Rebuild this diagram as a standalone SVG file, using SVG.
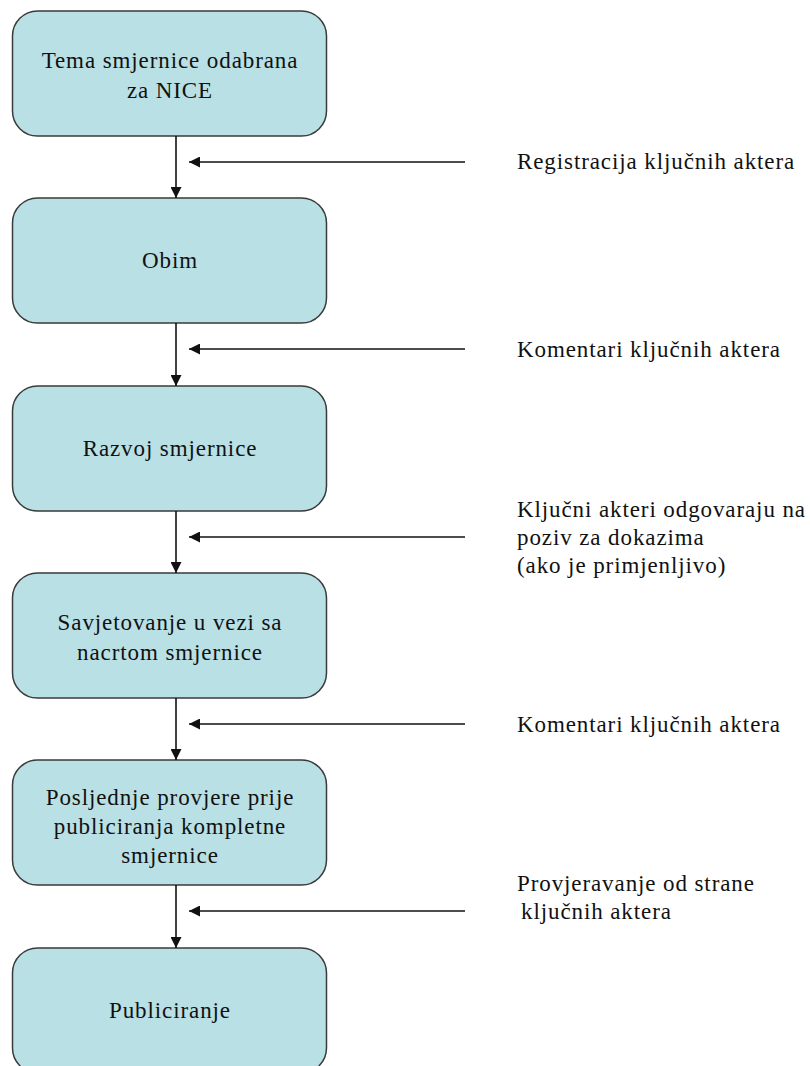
<svg xmlns="http://www.w3.org/2000/svg" width="810" height="1066" viewBox="0 0 810 1066">
<style>
.box{fill:#b9e0e4;stroke:#3a3a3a;stroke-width:1.5}
.c{text-anchor:middle}
.ln{stroke:#111;stroke-width:1.6;fill:none}
</style>
<defs>
<marker id="ah" viewBox="0 0 10 10" refX="10" refY="5" markerWidth="11" markerHeight="11" markerUnits="userSpaceOnUse" orient="auto">
<path d="M0,0 L10,5 L0,10 z" fill="#111"/>
</marker>
</defs>
<rect width="810" height="1066" fill="#fff"/>
<g font-family="Liberation Serif" font-size="23" fill="#111" letter-spacing="0.9">
<g id="n1"><rect class="box" x="12.5" y="11" width="314" height="125" rx="25"/>
<text class="c" x="170" y="68">Tema smjernice odabrana</text><text class="c" x="170" y="98">za NICE</text></g>
<g id="n2"><rect class="box" x="12.5" y="198" width="314" height="125" rx="25"/>
<text class="c" x="170" y="268">Obim</text></g>
<g id="n3"><rect class="box" x="12.5" y="386" width="314" height="125" rx="25"/>
<text class="c" x="170" y="456">Razvoj smjernice</text></g>
<g id="n4"><rect class="box" x="12.5" y="573" width="314" height="125" rx="25"/>
<text class="c" x="170" y="630">Savjetovanje u vezi sa</text><text class="c" x="170" y="660">nacrtom smjernice</text></g>
<g id="n5"><rect class="box" x="12.5" y="760" width="314" height="125" rx="25"/>
<text class="c" x="170" y="805">Posljednje provjere prije</text><text class="c" x="170" y="834">publiciranja kompletne</text><text class="c" x="170" y="863">smjernice</text></g>
<g id="n6"><rect class="box" x="12.5" y="948" width="314" height="125" rx="25"/>
<text class="c" x="170" y="1018">Publiciranje</text></g>
<g id="labels">
<text x="517" y="169">Registracija ključnih aktera</text>
<text x="517" y="357">Komentari ključnih aktera</text>
<text x="517" y="517">Ključni akteri odgovaraju na</text>
<text x="517" y="545">poziv za dokazima</text>
<text x="517" y="573">(ako je primjenljivo)</text>
<text x="517" y="732">Komentari ključnih aktera</text>
<text x="517" y="891">Provjeravanje od strane</text>
<text x="521" y="919">ključnih aktera</text>
</g>
</g>
<g id="connectors">
<line class="ln" x1="176" y1="136" x2="176" y2="198" marker-end="url(#ah)"/>
<line class="ln" x1="176" y1="323" x2="176" y2="386" marker-end="url(#ah)"/>
<line class="ln" x1="176" y1="511" x2="176" y2="573" marker-end="url(#ah)"/>
<line class="ln" x1="176" y1="698" x2="176" y2="760" marker-end="url(#ah)"/>
<line class="ln" x1="176" y1="885" x2="176" y2="948" marker-end="url(#ah)"/>
<line class="ln" x1="465" y1="162" x2="189" y2="162" marker-end="url(#ah)"/>
<line class="ln" x1="465" y1="349" x2="189" y2="349" marker-end="url(#ah)"/>
<line class="ln" x1="465" y1="537" x2="189" y2="537" marker-end="url(#ah)"/>
<line class="ln" x1="465" y1="724" x2="189" y2="724" marker-end="url(#ah)"/>
<line class="ln" x1="465" y1="911" x2="189" y2="911" marker-end="url(#ah)"/>
</g>
</svg>
